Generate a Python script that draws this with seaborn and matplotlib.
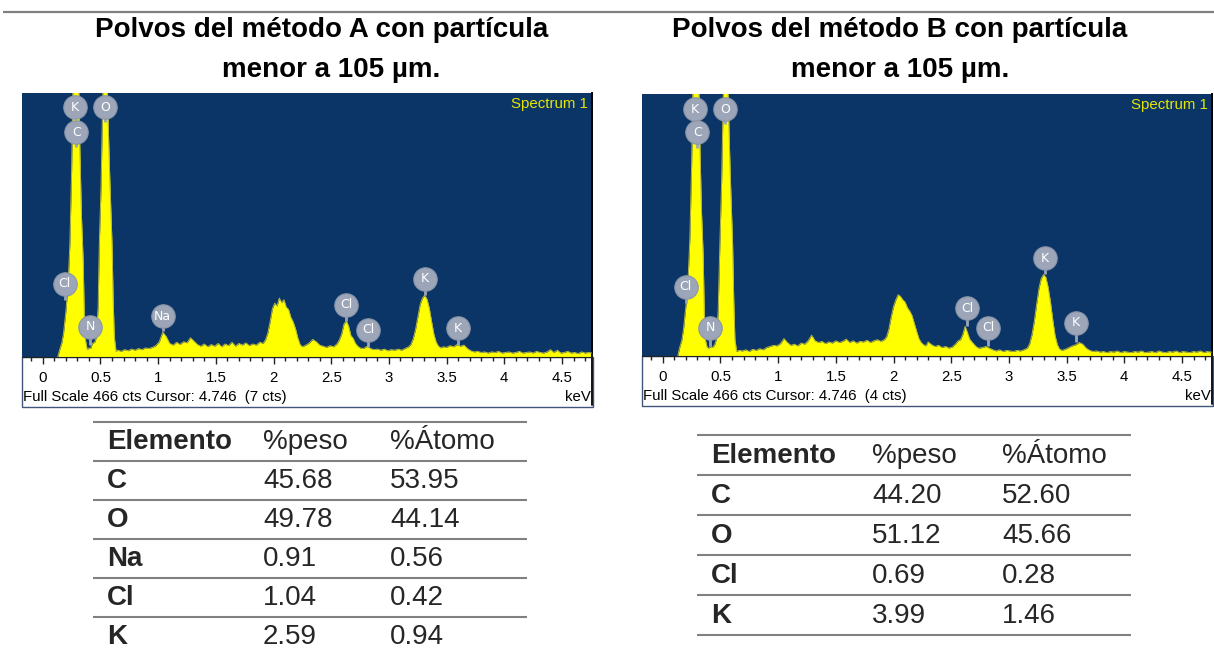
import matplotlib
matplotlib.use("Agg")
import matplotlib.pyplot as plt
from matplotlib.patches import Rectangle
from matplotlib.ticker import MultipleLocator
import seaborn as sns

# ---------------------------------------------------------------- data
titles = ["Polvos del método A con partícula", "Polvos del método B con partícula"]
subtitle = "menor a 105 µm."

# EDS spectrum, method A (keV, counts)
energy_a = [0.13, 0.145, 0.165, 0.18, 0.20, 0.22, 0.235, 0.25, 0.265, 0.285, 0.305, 0.32, 0.335, 0.35,
            0.36, 0.37, 0.385, 0.40, 0.415, 0.43, 0.45, 0.465, 0.48, 0.49, 0.505, 0.52, 0.54, 0.56,
            0.58, 0.60, 0.61, 0.62, 0.635, 0.65,
            0.68, 0.71, 0.74, 0.77, 0.80, 0.83, 0.86, 0.89, 0.92, 0.95, 0.98, 1.01, 1.04, 1.07, 1.10,
            1.13, 1.16, 1.19, 1.22, 1.25, 1.28, 1.31, 1.34, 1.37, 1.40, 1.43, 1.46, 1.49, 1.52, 1.55,
            1.58, 1.61, 1.64, 1.67, 1.70, 1.73, 1.76, 1.79, 1.82, 1.85, 1.88, 1.91,
            1.93, 1.95, 1.97, 1.99, 2.01, 2.03, 2.05, 2.07, 2.09, 2.11, 2.13, 2.15, 2.17, 2.19, 2.21,
            2.23, 2.25, 2.27, 2.29,
            2.31, 2.34, 2.37, 2.40, 2.43, 2.46, 2.49, 2.52, 2.55,
            2.57, 2.59, 2.61, 2.63, 2.65, 2.67, 2.69, 2.71, 2.73, 2.75,
            2.78, 2.81, 2.84, 2.87, 2.90, 2.93, 2.96, 2.99, 3.02, 3.05, 3.08, 3.11, 3.14, 3.17,
            3.19, 3.21, 3.23, 3.25, 3.27, 3.29, 3.31, 3.33, 3.35, 3.37, 3.39, 3.41, 3.43, 3.45, 3.47,
            3.50, 3.53, 3.56, 3.59, 3.62, 3.65, 3.68, 3.71, 3.74, 3.77, 3.80, 3.83, 3.86, 3.89, 3.92,
            3.95, 3.98, 4.01, 4.04, 4.07, 4.10, 4.13, 4.16, 4.19, 4.22, 4.25, 4.28, 4.31, 4.34, 4.37,
            4.40, 4.43, 4.46, 4.49, 4.52, 4.55, 4.58, 4.61, 4.64, 4.67, 4.70, 4.73, 4.76, 4.78]
counts_a = [0, 12, 25, 42, 80, 130, 200, 330, 520, 800, 560, 380, 250, 170,
            70, 30, 13, 16, 15, 24, 26, 35, 90, 200, 300, 460, 800, 460,
            320, 200, 100, 35, 10, 12,
            10, 13, 11, 14, 12, 15, 13, 16, 15, 17, 20, 27, 44, 36, 24,
            21, 26, 22, 27, 25, 34, 28, 22, 19, 23, 18, 22, 19, 24, 18,
            23, 20, 26, 19, 24, 21, 25, 20, 23, 21, 26, 24,
            30, 42, 62, 85, 95, 90, 104, 96, 101, 88, 84, 70, 62, 50, 34,
            22, 18, 20, 22,
            25, 31, 27, 21, 19, 17, 20, 18, 23,
            30, 40, 58, 64, 55, 38, 33, 24, 19, 16,
            15, 19, 15, 13, 14, 12, 14, 11, 13, 12, 14, 12, 15, 18,
            22, 32, 48, 70, 92, 104, 109, 102, 86, 62, 40, 26, 19, 16, 18,
            17, 20, 18, 22, 19, 21, 15, 11, 9, 10, 8, 9, 7, 9, 8,
            10, 7, 8, 9, 7, 8, 10, 7, 8, 9, 7, 10, 8, 7, 9,
            13, 8, 12, 7, 8, 10, 7, 8, 6, 9, 7, 8, 7, 7]

# EDS spectrum, method B (keV, counts)
energy_b = [0.13, 0.145, 0.165, 0.18, 0.20, 0.22, 0.235, 0.25, 0.265, 0.285, 0.305, 0.32, 0.335, 0.35,
            0.36, 0.37, 0.385, 0.40, 0.415, 0.43, 0.45, 0.465, 0.48, 0.495, 0.51, 0.525, 0.545, 0.565,
            0.585, 0.605, 0.615, 0.625, 0.64, 0.66,
            0.69, 0.72, 0.75, 0.78, 0.81, 0.84, 0.87, 0.90, 0.93, 0.96, 0.99, 1.02, 1.05, 1.08, 1.11,
            1.14, 1.17, 1.20, 1.23, 1.26, 1.29, 1.32, 1.35, 1.38, 1.41, 1.44, 1.47, 1.50, 1.53, 1.56,
            1.59, 1.62, 1.65, 1.68, 1.71, 1.74, 1.77, 1.80, 1.83, 1.86, 1.89, 1.92,
            1.94, 1.96, 1.98, 2.00, 2.02, 2.04, 2.06, 2.08, 2.10, 2.12, 2.14, 2.16, 2.18, 2.20, 2.22,
            2.24, 2.26, 2.28,
            2.30, 2.33, 2.36, 2.39, 2.42, 2.45, 2.48, 2.51, 2.54,
            2.56, 2.58, 2.60, 2.62, 2.64, 2.66, 2.68, 2.70, 2.72, 2.74,
            2.77, 2.80, 2.83, 2.86, 2.89, 2.92, 2.95, 2.98, 3.01, 3.04, 3.07, 3.10, 3.13, 3.16,
            3.18, 3.20, 3.22, 3.24, 3.26, 3.28, 3.30, 3.32, 3.34, 3.36, 3.38, 3.40, 3.42, 3.44, 3.46,
            3.49, 3.52, 3.55, 3.58, 3.61, 3.64, 3.67, 3.70, 3.73, 3.76, 3.79, 3.82, 3.85, 3.88, 3.91,
            3.94, 3.97, 4.00, 4.03, 4.06, 4.09, 4.12, 4.15, 4.18, 4.21, 4.24, 4.27, 4.30, 4.33, 4.36,
            4.39, 4.42, 4.45, 4.48, 4.51, 4.54, 4.57, 4.60, 4.63, 4.66, 4.69, 4.72, 4.75, 4.77]
counts_b = [0, 14, 28, 48, 88, 140, 210, 340, 530, 800, 570, 390, 260, 180,
            75, 28, 15, 14, 17, 15, 20, 30, 80, 200, 310, 470, 800, 470,
            320, 200, 100, 30, 8, 10,
            9, 11, 8, 12, 10, 13, 11, 15, 17, 19, 18, 22, 31, 24, 19,
            21, 18, 23, 21, 27, 37, 27, 24, 26, 22, 25, 23, 27, 24, 26,
            30, 24, 27, 23, 26, 25, 28, 24, 27, 29, 26, 29,
            34, 48, 70, 88, 100, 109, 106, 100, 96, 86, 80, 72, 58, 44, 31,
            24, 20, 18,
            25, 20, 17, 19, 15, 17, 14, 16, 22,
            27, 29, 38, 53, 42, 30, 25, 20, 16, 14,
            15, 17, 14, 11, 9, 11, 8, 10, 9, 8, 10, 9, 11, 14,
            22, 38, 62, 92, 120, 138, 145, 140, 122, 96, 64, 36, 20, 12, 10,
            12, 15, 18, 20, 24, 21, 14, 10, 8, 9, 7, 8, 6, 8, 7,
            9, 6, 8, 7, 6, 8, 7, 9, 6, 7, 8, 6, 9, 7, 6,
            8, 7, 9, 6, 8, 7, 6, 8, 7, 9, 6, 8, 7, 7]

# Peak identification markers: element, energy (keV), marker height and stem foot (counts)
peak_elem_a = ["K", "O", "C", "Cl", "N", "Na", "Cl", "Cl", "K", "K"]
peak_kev_a = [0.28, 0.54, 0.29, 0.19, 0.41, 1.04, 2.63, 2.82, 3.31, 3.60]
peak_cts_a = [441, 441, 397, 129, 53, 72, 92, 48, 138, 51]
peak_foot_a = [420, 415, 370, 100, 22, 46, 64, 18, 109, 22]

peak_elem_b = ["K", "O", "C", "Cl", "N", "Cl", "Cl", "K", "K"]
peak_kev_b = [0.28, 0.54, 0.30, 0.20, 0.41, 2.64, 2.82, 3.31, 3.58]
peak_cts_b = [439, 439, 398, 123, 50, 85, 50, 174, 59]
peak_foot_b = [418, 413, 370, 95, 18, 53, 18, 145, 25]

full_scale = 466
cursor_kev = 4.746
cursor_cts = [7, 4]
tick_kev = [0, 0.5, 1, 1.5, 2, 2.5, 3, 3.5, 4, 4.5]
tick_text = ["0", "0.5", "1", "1.5", "2", "2.5", "3", "3.5", "4", "4.5"]

table_header = ["Elemento", "%peso", "%Átomo"]
elements_a = ["C", "O", "Na", "Cl", "K"]
peso_a = [45.68, 49.78, 0.91, 1.04, 2.59]
atomo_a = [53.95, 44.14, 0.56, 0.42, 0.94]
elements_b = ["C", "O", "Cl", "K"]
peso_b = [44.20, 51.12, 0.69, 3.99]
atomo_b = [52.60, 45.66, 0.28, 1.46]

# ---------------------------------------------------------------- style
W, H = 1214, 656
BLUE = "#0a3566"
YELLOW = "#ffff00"
EDGE = "#b4b43c"
BADGE = "#9ca6b8"
RULE = "#808080"
SMALL = 10.8

sns.set_theme(style="white")
plt.rcParams["font.family"] = ["Liberation Sans", "DejaVu Sans"]

fig = plt.figure(figsize=(W / 100, H / 100), dpi=100)
bg = fig.add_axes([0, 0, 1, 1])
bg.set_xlim(0, W)
bg.set_ylim(H, 0)
bg.axis("off")


def px_rect(x0, y0, x1, y1):
    return [x0 / W, 1 - y1 / H, (x1 - x0) / W, (y1 - y0) / H]


# top rule and titles
bg.plot([3, W], [12, 12], color=RULE, lw=1.6, solid_capstyle="butt")
for title, xc1, xc2 in [(titles[0], 322, 331), (titles[1], 900, 900)]:
    bg.text(xc1, 37, title, ha="center", va="baseline", fontsize=20, weight="bold", color="black")
    bg.text(xc2, 77, subtitle, ha="center", va="baseline", fontsize=20, weight="bold", color="black")


def spectrum_panel(x0, y0, h, energy, counts, elems, kev, cts, foot, cur_cts):
    w = 570
    # white energy strip with the scale readout
    bg.add_patch(Rectangle((x0, y0 + h), w + 1, 50, facecolor="white", edgecolor="#41557a", lw=1.0))
    bg.plot([x0 + w, x0 + w], [y0, y0 + h + 48], color="black", lw=1.3)
    bg.text(x0 + 1, y0 + h + 40, f"Full Scale {full_scale} cts Cursor: {cursor_kev:.3f}  ({cur_cts} cts)",
            ha="left", va="center", fontsize=SMALL, color="black")
    bg.text(x0 + w - 1, y0 + h + 40, "keV", ha="right", va="center", fontsize=SMALL, color="black")

    ax = fig.add_axes(px_rect(x0, y0, x0 + w, y0 + h))
    ax.set_facecolor(BLUE)
    ax.fill_between(energy, counts, 0, color=YELLOW, lw=0, zorder=2)
    sns.lineplot(x=energy, y=counts, ax=ax, color=EDGE, lw=0.7, zorder=3, sort=False, estimator=None)
    ax.set_xlim(-0.18, 4.76)
    ax.set_ylim(0, full_scale)

    # peak markers
    ax.vlines(kev, foot, cts, color=BADGE, lw=2, zorder=4)
    sns.scatterplot(x=kev, y=cts, ax=ax, s=285, color=BADGE, edgecolor="#8a95a8", linewidth=0.8,
                    zorder=5, legend=False, clip_on=False)
    for t, xk, yc in zip(elems, kev, cts):
        ax.text(xk, yc, t, ha="center", va="center", color="white", fontsize=9,
                family="DejaVu Sans", zorder=6)

    ax.text(0.993, 0.958, "Spectrum 1", transform=ax.transAxes, ha="right", va="center",
            color="#e6e600", fontsize=SMALL)

    ax.set_xticks(tick_kev)
    ax.set_xticklabels(tick_text)
    ax.xaxis.set_minor_locator(MultipleLocator(0.1))
    ax.tick_params(axis="x", which="major", bottom=True, direction="out", length=5, width=1,
                   color="#222222", pad=5, labelsize=SMALL, labelcolor="black")
    ax.tick_params(axis="x", which="minor", bottom=True, direction="out", length=3, width=1,
                   color="#222222")
    ax.set_yticks([])
    ax.set_xlabel("")
    ax.set_ylabel("")
    for side in ["top", "left"]:
        ax.spines[side].set_visible(False)
    ax.spines["bottom"].set_color("#222222")
    ax.spines["bottom"].set_linewidth(0.8)
    ax.spines["right"].set_color("black")
    ax.spines["right"].set_linewidth(1.3)
    return ax


spectrum_panel(22, 93, 264, energy_a, counts_a, peak_elem_a, peak_kev_a, peak_cts_a, peak_foot_a, cursor_cts[0])
spectrum_panel(642, 94, 262, energy_b, counts_b, peak_elem_b, peak_kev_b, peak_cts_b, peak_foot_b, cursor_cts[1])


def composition_table(x_left, x_right, col_x, rule_y, base_y, row_h, elems, peso, atomo):
    n = len(elems) + 1
    for i in range(n + 1):
        y = rule_y + i * row_h
        if y < H - 2:
            bg.plot([x_left, x_right], [y, y], color=RULE, lw=1.5, solid_capstyle="butt")
    bg.text(col_x[0], base_y, table_header[0], fontsize=20, weight="bold", va="baseline")
    bg.text(col_x[1], base_y, table_header[1], fontsize=20, va="baseline")
    bg.text(col_x[2], base_y, table_header[2], fontsize=20, va="baseline")
    for i, (e, p, a) in enumerate(zip(elems, peso, atomo), start=1):
        yb = base_y + i * row_h
        bg.text(col_x[0], yb, e, fontsize=20, weight="bold", va="baseline")
        bg.text(col_x[1], yb, f"{p:.2f}", fontsize=20, va="baseline")
        bg.text(col_x[2], yb, f"{a:.2f}", fontsize=20, va="baseline")


composition_table(93, 527, [107, 263, 390], 422, 449, 39, elements_a, peso_a, atomo_a)
composition_table(697, 1131, [711, 872, 1002], 435, 463, 40, elements_b, peso_b, atomo_b)

fig.savefig("out.png", dpi=100, facecolor="white")
